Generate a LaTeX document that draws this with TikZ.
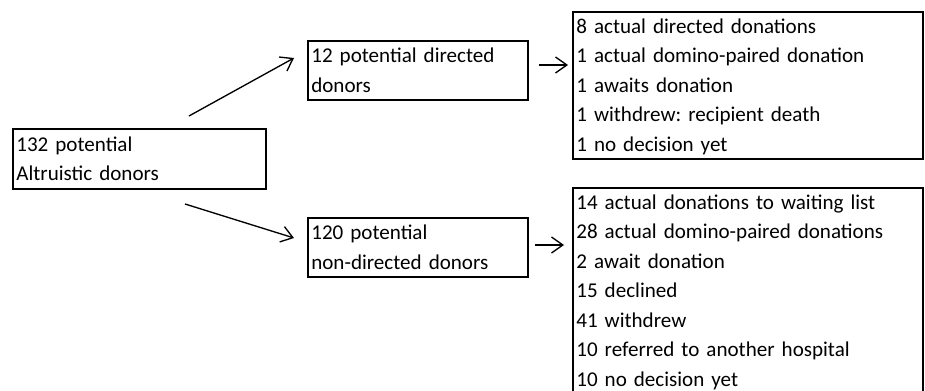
\documentclass[tikz,border=0pt]{standalone}
\usepackage{fontspec}
\setmainfont{Carlito}
\frenchspacing
\usetikzlibrary{arrows.meta}
\begin{document}
\begin{tikzpicture}[x=0.75pt,y=-0.75pt,
    donorbox/.style={draw, line width=1pt, rectangle, align=left,
        inner xsep=2.5pt, inner ysep=0pt, font=\fontsize{15.8}{22.125}\selectfont,
        execute at begin node={\rule{0pt}{14.25pt}},
        execute at end node={\rule[-3.75pt]{0pt}{3.75pt}}},
    flow/.style={line width=1pt, -{Straight Barb[length=8.5pt,width=12pt]}}]
    % Page frame (the last box runs off the bottom)
    \clip (0,0) rectangle (925,391);

    % Donor boxes
    \node[donorbox, text width=184.75pt, minimum height=45pt] (altru) at (139.5,159)
        {132 potential\\Altruistic donors};
    \node[donorbox, text width=160pt, minimum height=44.25pt] (directed) at (418,70.5)
        {12 potential directed\\donors};
    \node[donorbox, text width=160pt, minimum height=44.25pt] (nondirected) at (418,247.5)
        {120 potential\\non-directed donors};

    % Outcome boxes
    \node[donorbox, text width=257.5pt, minimum height=110.25pt] (dirout) at (748,85.5)
        {8 actual directed donations\\1 actual domino-paired donation\\1 awaits donation\\1 withdrew: recipient death\\1 no decision yet};
    \node[donorbox, text width=257.5pt, minimum height=154.5pt] (nondirout) at (748,291)
        {14 actual donations to waiting list\\28 actual domino-paired donations\\2 await donation\\15 declined\\41 withdrew\\10 referred to another hospital\\10 no decision yet};

    % Arrow end points
    \coordinate (up1) at (189,116);
    \coordinate (up2) at (294,58);
    \coordinate (down1) at (185,204);
    \coordinate (down2) at (294,238);
    \coordinate (dir1) at (539,65);
    \coordinate (dir2) at (568,65);
    \coordinate (non1) at (535,245);
    \coordinate (non2) at (564,245);

    % Arrows
    \draw[flow] (up1) -- (up2);
    \draw[flow] (down1) -- (down2);
    \draw[flow] (dir1) -- (dir2);
    \draw[flow] (non1) -- (non2);
\end{tikzpicture}
\end{document}
